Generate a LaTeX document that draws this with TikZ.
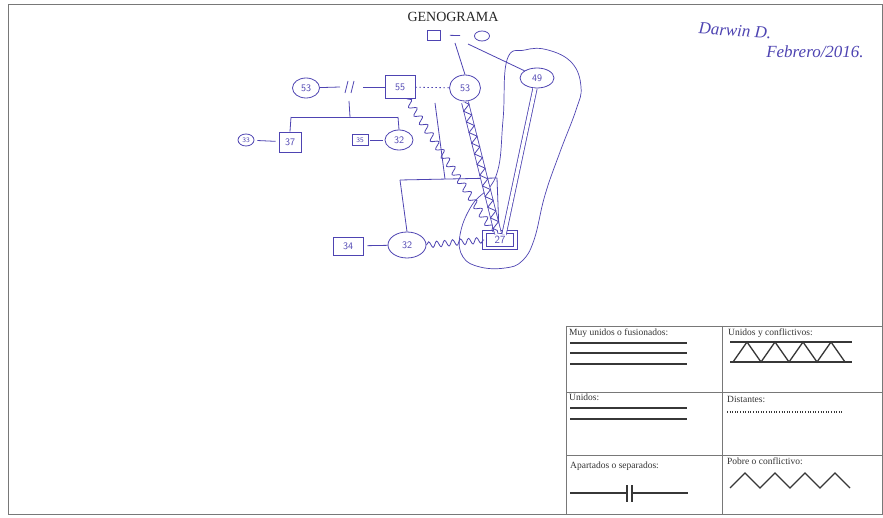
\documentclass[tikz,border=0pt]{standalone}
\usepackage{fontspec}
\setmainfont{Liberation Serif}
\usetikzlibrary{shapes.geometric,decorations.pathmorphing,calc}
\definecolor{ink}{RGB}{78,68,178}
\definecolor{framec}{RGB}{120,120,120}
\definecolor{legc}{RGB}{55,55,55}
\begin{document}
\begin{tikzpicture}[x=1pt,y=-1pt,
  inkline/.style={draw=ink, line width=0.8pt},
  pers/.style={ellipse, draw=ink, line width=0.8pt, inner sep=0pt, text=ink, font=\sffamily\fontsize{10}{10}\selectfont},
  male/.style={rectangle, draw=ink, line width=0.8pt, inner sep=0pt, text=ink, font=\sffamily\fontsize{10}{10}\selectfont},
  snakeline/.style={inkline, decorate, decoration={snake, segment length=10pt, amplitude=3.5pt}},
  legline/.style={draw=legc, line width=1.3pt},
  legtext/.style={anchor=north west, inner sep=0pt, text=black!80, font=\fontsize{9.5}{10}\selectfont},
  hand/.style={text=ink, font=\itshape\fontsize{17}{17}\selectfont}
]
\useasboundingbox (0,0) rectangle (883,518);
\fill[white] (0,0) rectangle (883,518);
% page frame
\draw[framec, line width=0.8pt] (8,4) rectangle (882,514);

% title and author
\node[font=\fontsize{14}{14}\selectfont, text=black!85] (title) at (453,17) {GENOGRAMA};
\node[hand, rotate=-4] (author) at (735,31) {Darwin D.};
\node[hand] (date) at (815,52) {Febrero/2016.};

% top couple
\node[male, minimum width=13pt, minimum height=10pt] (sqTop) at (434,35) {};
\node[pers, minimum width=15pt, minimum height=10pt] (circTop) at (482,36) {};
\draw[inkline, shorten <=9pt, shorten >=14pt] (sqTop) -- (circTop);

% persons
\node[pers, minimum width=27pt, minimum height=20pt] (c53L) at (306,88) {53};
\node[male, minimum width=30pt, minimum height=23pt] (b55) at (400,87) {55};
\node[pers, minimum width=31pt, minimum height=26pt] (c53R) at (465,88) {53};
\node[pers, minimum width=34pt, minimum height=20pt] (c49) at (537,78) {49};
\node[pers, minimum width=16pt, minimum height=12pt, font=\sffamily\fontsize{7}{7}\selectfont] (c33) at (246,140) {33};
\node[male, minimum width=22pt, minimum height=20pt] (b37) at (290,142) {37};
\node[male, minimum width=16pt, minimum height=11pt, font=\sffamily\fontsize{7}{7}\selectfont] (b35) at (360,140) {35};
\node[pers, minimum width=28pt, minimum height=20pt] (c32a) at (399,140) {32};
\node[male, minimum width=30pt, minimum height=18pt] (b34) at (348,246) {34};
\node[pers, minimum width=38pt, minimum height=26pt] (c32b) at (407,245) {32};
\node[male, double=white, double distance=2.5pt, minimum width=31pt, minimum height=16pt, font=\sffamily\fontsize{11}{11}\selectfont] (b27) at (500,240) {27};

% enclosing loop
\draw[inkline, line width=0.7pt] plot[smooth cycle, tension=0.7] coordinates {
  (507,60) (503,120) (496,176) (472,205) (460,235) (463,257) (480,267)
  (505,268) (522,261) (534,240) (545,195) (560,152) (576,110) (581,87)
  (572,63) (548,50) (525,50)};

% top couple descendants
\coordinate (topJ) at (455,43);
\coordinate (topJ2) at (468,44);
\draw[inkline] (topJ) -- (c53R.north);
\draw[inkline] (topJ2) -- (c49.150);

% separated couple 53 - 55
\coordinate (sepA) at (340,87);
\coordinate (sepB) at (363,87);
\draw[inkline] (c53L) -- (sepA);
\draw[inkline] (sepB) -- (b55);
\draw[inkline] (345,93) -- (348,81) (351,93) -- (354,81);
\coordinate (sepKid) at (349,101);
\coordinate (kidJ) at (350,117);
\coordinate (barLL) at (291,117);
\coordinate (barLR) at (398,117);
\draw[inkline] (sepKid) -- (kidJ);
\draw[inkline] (barLL) -- (barLR);
\draw[inkline] (barLL) -- (b37.north);
\draw[inkline] (barLR) -- (c32a.north);
\draw[inkline, shorten <=3pt, shorten >=3pt] (c33) -- (b37);
\draw[inkline, shorten <=2pt, shorten >=2pt] (b35) -- (c32a);

% distant 55 ... 53
\draw[inkline, dash pattern=on 1.5pt off 2.5pt] (b55) -- (c53R);

% children of 55 - 53
\coordinate (kidsTop) at (435,103);
\coordinate (barMid) at (445,179);
\coordinate (barL) at (400,180);
\coordinate (barR) at (497,178);
\draw[inkline] (kidsTop) -- (barMid);
\draw[inkline] (barL) -- (barR);
\draw[inkline] (barL) -- (c32b.north);
\draw[inkline] (barR) -- ([xshift=-1pt]b27.north);

% relationships towards 27
\draw[snakeline] ([xshift=7pt]b55.south) -- ([xshift=-7pt]b27.north);
\draw[inkline, double=white, double distance=6pt] ([yshift=-1pt]c53R.south) -- ([xshift=-2pt,yshift=-2pt]b27.north);
\draw[inkline, decorate, decoration={zigzag, segment length=11pt, amplitude=3.5pt}] ([yshift=-1pt]c53R.south) -- ([xshift=-2pt,yshift=-2pt]b27.north);
\draw[inkline, double=white, double distance=3.5pt] ([xshift=-2pt]c49.south) -- ([xshift=4pt,yshift=-3pt]b27.north);

% 34 - 32 - 27
\draw[inkline, shorten <=4pt] (b34) -- (c32b);
\draw[snakeline, decoration={snake, segment length=8pt, amplitude=3pt}] (c32b.east) -- (b27.west);

% legend table
\draw[framec, line width=0.8pt] (566,326) -- (882,326) (566,392) -- (882,392) (566,455) -- (882,455)
  (566,326) -- (566,514) (722,326) -- (722,514);
\node[legtext] (l1) at (569,329) {Muy unidos o fusionados:};
\node[legtext] (l2) at (728,329) {Unidos y conflictivos:};
\node[legtext] (l3) at (569,394) {Unidos:};
\node[legtext] (l4) at (727,396) {Distantes:};
\node[legtext] (l5) at (570,462) {Apartados o separados:};
\node[legtext] (l6) at (727,458) {Pobre o conflictivo:};
% legend samples
\draw[legline] (570,343) -- (687,343) (570,353) -- (687,353) (570,364) -- (687,364);
\draw[legline] (730,342) -- (852,342) (730,362) -- (852,362);
\draw[legline] (733,362) -- (747,342) -- (761,362) -- (775,342) -- (789,362) -- (803,342) -- (817,362) -- (831,342) -- (845,362);
\draw[legline] (570,408) -- (687,408) (570,419) -- (687,419);
\draw[legc, line width=1.2pt, dash pattern=on 1pt off 1.6pt] (727,412) -- (843,412);
\draw[legline] (570,493) -- (627,493) (632,493) -- (688,493);
\draw[legline] (627,485) -- (627,502) (632,485) -- (632,502);
\draw[legline, line join=miter] (730,488) -- (745,473) -- (760,488) -- (775,473) -- (790,488) -- (805,473) -- (820,488) -- (835,473) -- (850,488);
\end{tikzpicture}
\end{document}
